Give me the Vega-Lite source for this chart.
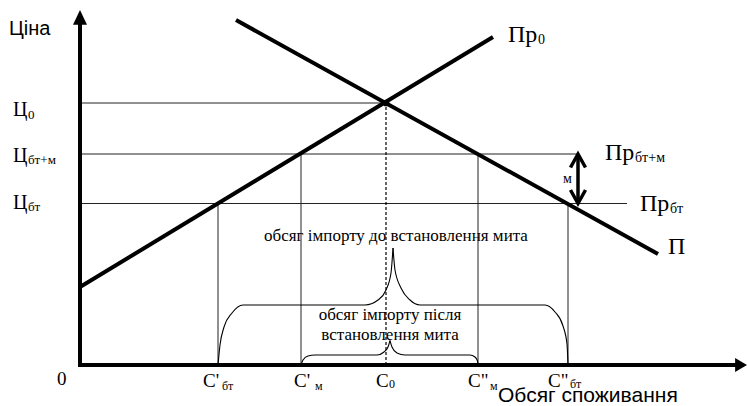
{
  "$schema": "https://vega.github.io/schema/vega-lite/v6.json",
  "width": 747,
  "height": 406,
  "autosize": "none",
  "padding": 0,
  "background": "white",
  "config": {"view": {"stroke": null}},
  "datasets": {
    "hlines": [
      {"name": "Ц0", "q": 0, "q2": 30.6, "p": 26.2, "p2": 26.2},
      {"name": "Цбт+м", "q": 0, "q2": 49.8, "p": 21.1, "p2": 21.1},
      {"name": "Цбт", "q": 0, "q2": 54.7, "p": 16.15, "p2": 16.15},
      {"name": "C'бт", "q": 13.8, "q2": 13.8, "p": 0, "p2": 16.15},
      {"name": "C'м", "q": 22.1, "q2": 22.1, "p": 0, "p2": 21.1},
      {"name": "C\"м", "q": 39.8, "q2": 39.8, "p": 0, "p2": 21.1},
      {"name": "C\"бт", "q": 48.8, "q2": 48.8, "p": 0, "p2": 16.15}
    ],
    "dashed": [
      {"name": "C0", "q": 30.6, "q2": 30.6, "p": 0, "p2": 26.2}
    ],
    "axes": [
      {"name": "y", "q": 0, "q2": 0, "p": 0, "p2": 34.2},
      {"name": "x", "q": 0, "q2": 65.6, "p": 0, "p2": 0}
    ],
    "tariff": [
      {"name": "м", "q": 49.8, "q2": 49.8, "p": 16.3, "p2": 21.0}
    ],
    "curves": [
      {"curve": "Пр0", "q": 0, "p": 7.8},
      {"curve": "Пр0", "q": 41.3, "p": 32.8},
      {"curve": "П", "q": 15.6, "p": 34.5},
      {"curve": "П", "q": 57.8, "p": 11.1}
    ],
    "headUp": [{"q": 0, "p": 35.5}],
    "headRight": [{"q": 66.7, "p": 0}],
    "chevTop": [{"q": 49.8, "p": 21.1}],
    "chevBottom": [{"q": 49.8, "p": 16.15}],
    "eq": [
      {"q": 30.6, "p": 26.2}
    ],
    "braces": [
      {"part": "bigL", "q": 13.8, "p": 0},
      {"part": "bigL", "q": 14.0, "p": 2.0},
      {"part": "bigL", "q": 14.4, "p": 3.8},
      {"part": "bigL", "q": 15.2, "p": 5.2},
      {"part": "bigL", "q": 16.3, "p": 6.0},
      {"part": "bigL", "q": 28.5, "p": 6.0},
      {"part": "bigL", "q": 29.8, "p": 6.5},
      {"part": "bigL", "q": 30.6, "p": 7.5},
      {"part": "bigL", "q": 31.1, "p": 9.2},
      {"part": "bigL", "q": 31.3, "p": 11.7},
      {"part": "bigR", "q": 31.3, "p": 11.7},
      {"part": "bigR", "q": 31.5, "p": 9.5},
      {"part": "bigR", "q": 32.1, "p": 7.7},
      {"part": "bigR", "q": 33.0, "p": 6.5},
      {"part": "bigR", "q": 34.0, "p": 6.0},
      {"part": "bigR", "q": 46.5, "p": 6.0},
      {"part": "bigR", "q": 47.5, "p": 5.3},
      {"part": "bigR", "q": 48.3, "p": 3.9},
      {"part": "bigR", "q": 48.7, "p": 2.1},
      {"part": "bigR", "q": 48.8, "p": 0},
      {"part": "smallL", "q": 22.1, "p": 0},
      {"part": "smallL", "q": 22.3, "p": 0.5},
      {"part": "smallL", "q": 22.8, "p": 0.9},
      {"part": "smallL", "q": 23.5, "p": 1.0},
      {"part": "smallL", "q": 29.7, "p": 1.0},
      {"part": "smallL", "q": 30.4, "p": 1.3},
      {"part": "smallL", "q": 30.8, "p": 1.8},
      {"part": "smallL", "q": 31.0, "p": 2.45},
      {"part": "smallR", "q": 31.0, "p": 2.45},
      {"part": "smallR", "q": 31.2, "p": 1.8},
      {"part": "smallR", "q": 31.7, "p": 1.2},
      {"part": "smallR", "q": 32.5, "p": 1.0},
      {"part": "smallR", "q": 39.0, "p": 1.0},
      {"part": "smallR", "q": 39.5, "p": 0.8},
      {"part": "smallR", "q": 39.75, "p": 0.4},
      {"part": "smallR", "q": 39.8, "p": 0}
    ],
    "priceMain": [
      {"t": "Ц", "q": -6.7, "p": 24.9},
      {"t": "Ц", "q": -6.7, "p": 20.3},
      {"t": "Ц", "q": -6.7, "p": 15.6}
    ],
    "priceSub": [
      {"t": "0", "q": -5.2, "p": 24.6},
      {"t": "бт+м", "q": -5.2, "p": 20.1},
      {"t": "бт", "q": -5.2, "p": 15.4}
    ],
    "qMain": [
      {"t": "0", "q": -2.3, "p": -2.0},
      {"t": "C'", "q": 12.3, "p": -2.2},
      {"t": "C'", "q": 21.4, "p": -2.2},
      {"t": "C", "q": 29.6, "p": -2.2},
      {"t": "C\"", "q": 38.8, "p": -2.2},
      {"t": "C\"", "q": 46.8, "p": -2.15}
    ],
    "qSub": [
      {"t": "бт", "q": 14.2, "p": -2.5},
      {"t": "м", "q": 23.5, "p": -2.5},
      {"t": "0", "q": 30.9, "p": -2.3},
      {"t": "м", "q": 41.0, "p": -2.5},
      {"t": "бт", "q": 49.0, "p": -2.3}
    ],
    "curveMain": [
      {"t": "Пр", "q": 42.8, "p": 32.3},
      {"t": "Пр", "q": 52.5, "p": 20.5},
      {"t": "Пр", "q": 56.0, "p": 15.4},
      {"t": "П", "q": 58.8, "p": 11.1}
    ],
    "curveSub": [
      {"t": "0", "q": 45.8, "p": 32.15},
      {"t": "бт+м", "q": 55.5, "p": 20.3},
      {"t": "бт", "q": 59.0, "p": 15.2}
    ],
    "sans": [
      {"t": "Ціна", "q": -7.1, "p": 33.0}
    ],
    "sansAxis": [
      {"t": "Обсяг споживання", "q": 41.8, "p": -3.7}
    ],
    "notes": [
      {"t": "обсяг імпорту до встановлення мита", "q": 31.6, "p": 12.4},
      {"t": "обсяг імпорту після", "q": 31.0, "p": 4.5},
      {"t": "встановлення мита", "q": 31.0, "p": 2.5}
    ],
    "duty": [
      {"t": "м", "q": 48.3, "p": 18.2}
    ]
  },
  "encoding": {
    "x": {"field": "q", "type": "quantitative", "scale": {"domain": [-8.0, 66.7], "nice": false, "zero": false}, "axis": null},
    "y": {"field": "p", "type": "quantitative", "scale": {"domain": [-4.1, 36.5], "nice": false, "zero": false}, "axis": null}
  },
  "layer": [
    {
      "data": {"name": "hlines"},
      "mark": {"type": "rule", "color": "#222", "strokeWidth": 1},
      "encoding": {"x2": {"field": "q2"}, "y2": {"field": "p2"}}
    },
    {
      "data": {"name": "dashed"},
      "mark": {"type": "rule", "color": "#000", "strokeWidth": 1.2, "strokeDash": [3, 2]},
      "encoding": {"x2": {"field": "q2"}, "y2": {"field": "p2"}}
    },
    {
      "data": {"name": "braces"},
      "mark": {"type": "line", "color": "#000", "strokeWidth": 1.1, "interpolate": "monotone"},
      "encoding": {"detail": {"field": "part"}}
    },
    {
      "data": {"name": "curves"},
      "mark": {"type": "line", "color": "#000", "strokeWidth": 4},
      "encoding": {"detail": {"field": "curve"}}
    },
    {
      "data": {"name": "axes"},
      "mark": {"type": "rule", "color": "#000", "strokeWidth": 4, "strokeCap": "square"},
      "encoding": {"x2": {"field": "q2"}, "y2": {"field": "p2"}}
    },
    {
      "data": {"name": "tariff"},
      "mark": {"type": "rule", "color": "#000", "strokeWidth": 3.5},
      "encoding": {"x2": {"field": "q2"}, "y2": {"field": "p2"}}
    },
    {
      "data": {"name": "headUp"},
      "mark": {"type": "point", "filled": true, "color": "#000", "opacity": 1, "size": 196, "shape": "M 0 0 L -1 2.1 L 1 2.1 Z"}
    },
    {
      "data": {"name": "headRight"},
      "mark": {"type": "point", "filled": true, "color": "#000", "opacity": 1, "size": 196, "shape": "M 0 0 L -1.7 -1 L -1.7 1 Z"}
    },
    {
      "data": {"name": "chevTop"},
      "mark": {"type": "point", "filled": false, "color": "#000", "opacity": 1, "size": 225, "strokeWidth": 3.5, "strokeJoin": "miter", "shape": "M -1 1.8 L 0 0 L 1 1.8"}
    },
    {
      "data": {"name": "chevBottom"},
      "mark": {"type": "point", "filled": false, "color": "#000", "opacity": 1, "size": 225, "strokeWidth": 3.5, "strokeJoin": "miter", "shape": "M -1 -1.8 L 0 0 L 1 -1.8"}
    },
    {
      "data": {"name": "eq"},
      "mark": {"type": "point", "filled": true, "color": "#000", "opacity": 1, "size": 45, "shape": "circle"}
    },
    {
      "data": {"name": "priceMain"},
      "mark": {"type": "text", "font": "Liberation Serif", "fontSize": 20, "align": "left", "baseline": "alphabetic", "color": "#000"},
      "encoding": {"text": {"field": "t"}}
    },
    {
      "data": {"name": "priceSub"},
      "mark": {"type": "text", "font": "Liberation Serif", "fontSize": 13, "align": "left", "baseline": "alphabetic", "color": "#000"},
      "encoding": {"text": {"field": "t"}}
    },
    {
      "data": {"name": "qMain"},
      "mark": {"type": "text", "font": "Liberation Serif", "fontSize": 19, "align": "left", "baseline": "alphabetic", "color": "#000"},
      "encoding": {"text": {"field": "t"}}
    },
    {
      "data": {"name": "qSub"},
      "mark": {"type": "text", "font": "Liberation Serif", "fontSize": 12, "align": "left", "baseline": "alphabetic", "color": "#000"},
      "encoding": {"text": {"field": "t"}}
    },
    {
      "data": {"name": "curveMain"},
      "mark": {"type": "text", "font": "Liberation Serif", "fontSize": 24, "align": "left", "baseline": "alphabetic", "color": "#000"},
      "encoding": {"text": {"field": "t"}}
    },
    {
      "data": {"name": "curveSub"},
      "mark": {"type": "text", "font": "Liberation Serif", "fontSize": 14, "align": "left", "baseline": "alphabetic", "color": "#000"},
      "encoding": {"text": {"field": "t"}}
    },
    {
      "data": {"name": "sans"},
      "mark": {"type": "text", "font": "Liberation Sans", "fontSize": 20, "align": "left", "baseline": "alphabetic", "color": "#000"},
      "encoding": {"text": {"field": "t"}}
    },
    {
      "data": {"name": "sansAxis"},
      "mark": {"type": "text", "font": "Liberation Sans", "fontSize": 21, "align": "left", "baseline": "alphabetic", "color": "#000"},
      "encoding": {"text": {"field": "t"}}
    },
    {
      "data": {"name": "notes"},
      "mark": {"type": "text", "font": "Liberation Serif", "fontSize": 17, "align": "center", "baseline": "alphabetic", "color": "#000"},
      "encoding": {"text": {"field": "t"}}
    },
    {
      "data": {"name": "duty"},
      "mark": {"type": "text", "font": "Liberation Serif", "fontSize": 14, "align": "left", "baseline": "alphabetic", "color": "#000"},
      "encoding": {"text": {"field": "t"}}
    }
  ]
}
